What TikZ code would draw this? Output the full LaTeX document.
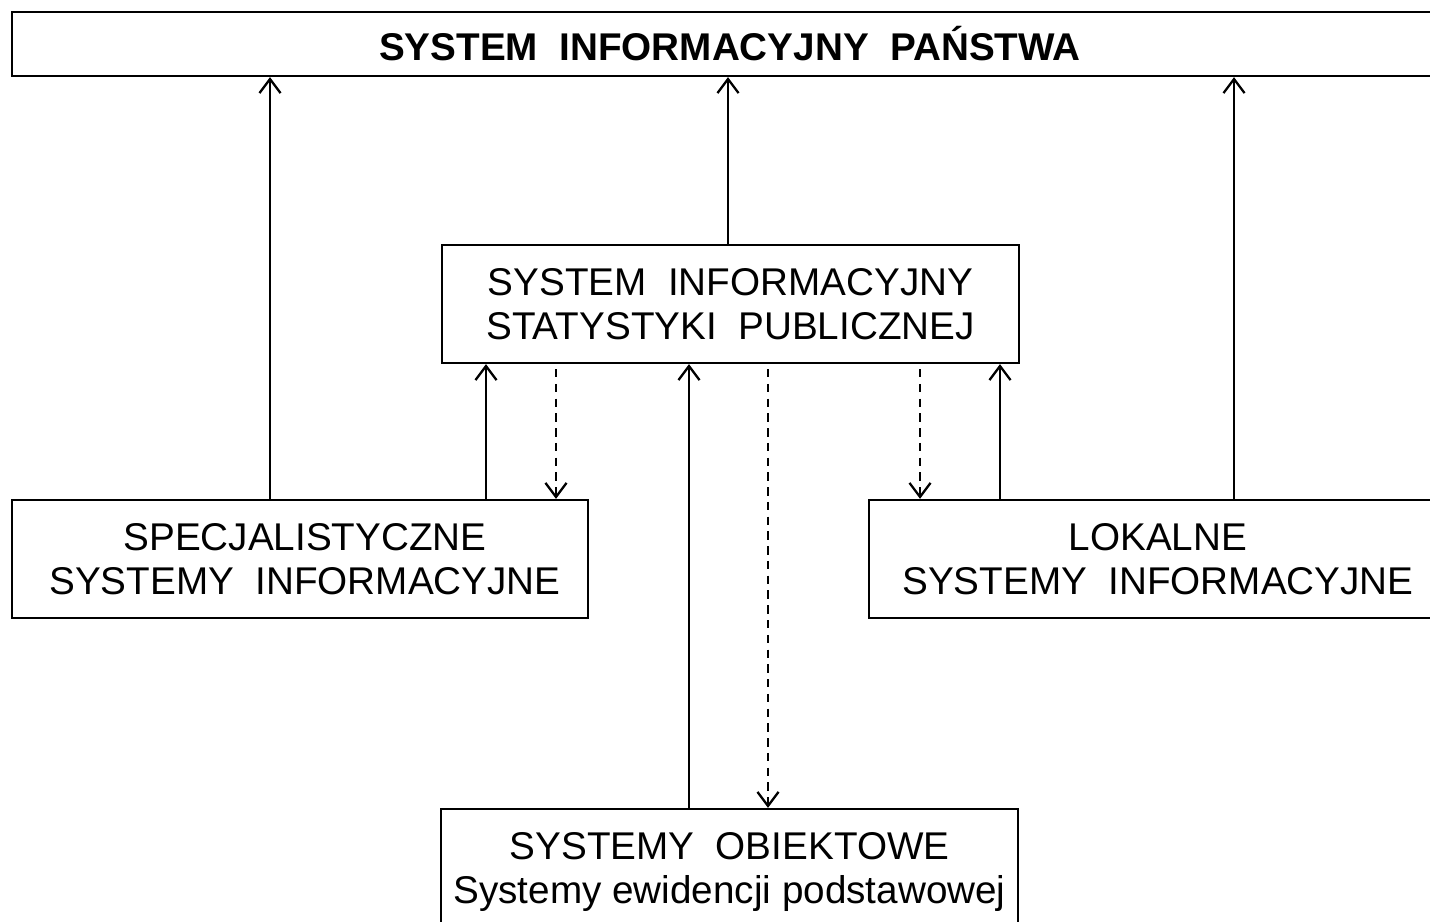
\documentclass[tikz,border=0pt]{standalone}
\usepackage{fontspec}
\setmainfont{Liberation Sans}
\usetikzlibrary{arrows.meta}

\begin{document}
\begin{tikzpicture}[>={Straight Barb[length=4pt,width=6pt,line width=0.65pt]}, line cap=butt,
	font=\fontsize{11}{12.5}\selectfont,
	sysbox/.style={draw, line width=0.65pt, align=center, inner sep=0pt},
	flowup/.style={->, line width=0.45pt},
	flowdown/.style={->, line width=0.45pt, dash pattern=on 2.4pt off 1.8pt, shorten <=1.4pt}]
	
	\clip (0,0) rectangle (14.30,-9.22);
	
	% ===== Boxes =====
	\node[sysbox, minimum width=14.36cm, minimum height=0.64cm, font=\fontsize{11}{12.5}\selectfont\bfseries]
	(panstwo) at (7.30,-0.44) {SYSTEM\ \ INFORMACYJNY\ \ PAŃSTWA};
	
	\node[sysbox, minimum width=5.77cm, minimum height=1.18cm]
	(sisp) at (7.305,-3.04) {\raisebox{-2pt}{\parbox{5.6cm}{\centering SYSTEM\ \ INFORMACYJNY\\STATYSTYKI\ \ PUBLICZNEJ}}};
	
	\node[sysbox, minimum width=5.76cm, minimum height=1.18cm]
	(spec) at (3.00,-5.59) {\hspace*{0.1cm}\parbox{5.5cm}{\centering SPECJALISTYCZNE\\SYSTEMY\ \ INFORMACYJNE}};
	
	\node[sysbox, minimum width=5.68cm, minimum height=1.18cm]
	(lokal) at (11.53,-5.59) {\raisebox{-2pt}{\hspace*{0.1cm}\parbox{5.5cm}{\centering LOKALNE\\SYSTEMY\ \ INFORMACYJNE}}};
	
	\node[sysbox, minimum width=5.77cm, minimum height=1.26cm]
	(obiekt) at (7.295,-8.72) {SYSTEMY\ \ OBIEKTOWE\\Systemy ewidencji podstawowej};
	
	% ===== Connectors to the top =====
	\draw[flowup] ([xshift=-0.30cm]spec.north) -- ([xshift=-0.30cm]spec.north |- panstwo.south);
	\draw[flowup] ([xshift=-0.025cm]sisp.north) -- ([xshift=-0.025cm]sisp.north |- panstwo.south);
	\draw[flowup] ([xshift=0.81cm]lokal.north) -- ([xshift=0.81cm]lokal.north |- panstwo.south);
	
	% ===== Between SISP and the lower systems =====
	\draw[flowup] ([xshift=1.86cm]spec.north) -- ([xshift=1.86cm]spec.north |- sisp.south);
	\draw[flowdown] ([xshift=2.56cm]spec.north |- sisp.south) -- ([xshift=2.56cm]spec.north);
	
	\draw[flowdown] ([xshift=-2.33cm]lokal.north |- sisp.south) -- ([xshift=-2.33cm]lokal.north);
	\draw[flowup] ([xshift=-1.53cm]lokal.north) -- ([xshift=-1.53cm]lokal.north |- sisp.south);
	
	\draw[flowup] ([xshift=-0.405cm]obiekt.north) -- ([xshift=-0.405cm]obiekt.north |- sisp.south);
	\draw[flowdown] ([xshift=0.385cm]obiekt.north |- sisp.south) -- ([xshift=0.385cm]obiekt.north);
	
\end{tikzpicture}
\end{document}
